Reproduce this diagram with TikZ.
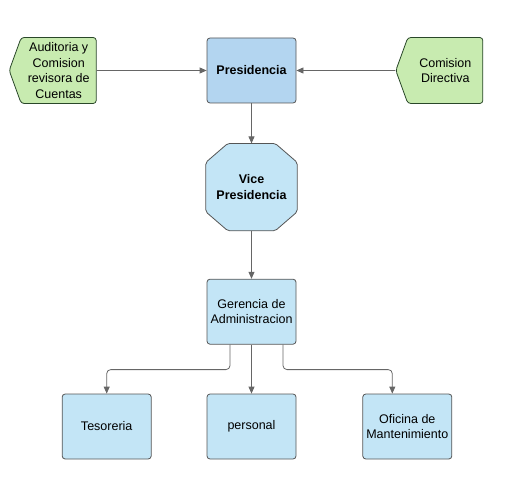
\documentclass[tikz,border=0pt]{standalone}
\usepackage{fontspec}
\setmainfont{Liberation Sans}
\usetikzlibrary{arrows.meta, positioning, shapes.symbols, backgrounds}
\definecolor{boxblue}{HTML}{C3E5F6}
\definecolor{presblue}{HTML}{B3D5F0}
\definecolor{hexgreen}{HTML}{C8EBB0}
\definecolor{linegray}{HTML}{666666}
\definecolor{bordergray}{HTML}{555555}

\begin{document}
\begin{tikzpicture}[x=1pt, y=-1pt, >={Triangle[length=7pt, width=6pt]},
    font=\fontsize{12.5}{15.5}\selectfont,
    box/.style={rectangle, draw=bordergray, thick, rounded corners=3pt, minimum width=89pt, minimum height=65pt, align=center, fill=boxblue, inner sep=2pt},
    hexa/.style={signal, draw=bordergray!80!green!60!black, thick, rounded corners=3pt, fill=hexgreen, minimum width=87pt, minimum height=66pt, align=center, signal pointer angle=140, inner sep=2pt},
    octa/.style={rectangle, minimum width=91pt, minimum height=87pt, align=center, inner sep=0pt},
    octline/.style={draw=bordergray, thick, rounded corners=2pt, fill=boxblue},
    conn/.style={draw=linegray, thick, ->, rounded corners=4pt}]
  \useasboundingbox (0,0) rectangle (516,484);
  \node[box, fill=presblue, font=\fontsize{12.5}{15.5}\selectfont\bfseries] (pres) at (251.5,70.5) {Presidencia};
  \node[hexa, signal to=west, left=110pt of pres] (audit) {Auditoria y\\Comision\\revisora de\\Cuentas};
  \node[hexa, signal to=west, right=99pt of pres] (comis) {Comision\\Directiva};
  \node[octa, below=40pt of pres, font=\fontsize{12.5}{15.5}\selectfont\bfseries] (vice) {Vice\\Presidencia};
  \node[box, below=48pt of vice] (ger) {Gerencia de\\Administracion};
  \node[box, below=49pt of ger] (pers) {personal};
  \node[box, left=55pt of pers] (tes) {Tesoreria};
  \node[box, right=66pt of pers] (ofi) {Oficina de\\Mantenimiento};
  % octagon behind the text of vice
  \begin{scope}[on background layer]
    \path[octline] ([xshift=22pt]vice.north west) -- ([xshift=-22pt]vice.north east)
      -- ([yshift=-19pt]vice.north east) -- ([yshift=19pt]vice.south east)
      -- ([xshift=-22pt]vice.south east) -- ([xshift=22pt]vice.south west)
      -- ([yshift=19pt]vice.south west) -- ([yshift=-19pt]vice.north west) -- cycle;
  \end{scope}
  \draw[conn] (audit) -- (pres);
  \draw[conn] (comis) -- (pres);
  \draw[conn] (pres) -- (vice);
  \draw[conn] (vice) -- (ger);
  \draw[conn] (ger) -- (pers);
  \draw[conn] ([xshift=-21.5pt]ger.south) -- ++(0,-25pt) -| (tes.north);
  \draw[conn] ([xshift=31.5pt]ger.south) -- ++(0,-25pt) -| ([xshift=-15pt]ofi.north);
\end{tikzpicture}
\end{document}
